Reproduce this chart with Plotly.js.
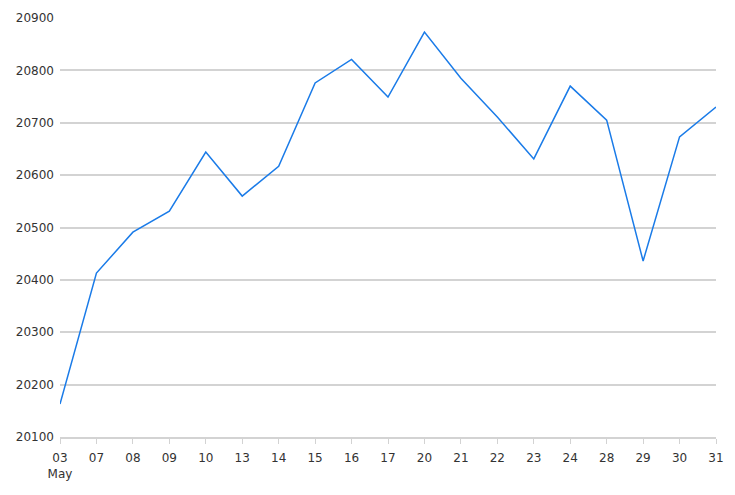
<!DOCTYPE html>
<html><head><meta charset="utf-8">
<script src="https://cdn.plot.ly/plotly-3.0.1.min.js"></script>
<style>html,body{margin:0;padding:0;background:#fff}#chart{width:735px;height:495px}</style>
</head><body><div id="chart"></div>
<script>
var days = ["03","07","08","09","10","13","14","15","16","17","20","21","22","23","24","28","29","30","31"];
var tickLabels = ["03<br>May","07","08","09","10","13","14","15","16","17","20","21","22","23","24","28","29","30","31"];
var values = [20163,20413,20491,20531,20644,20560,20617,20776,20821,20749,20873,20785,20711,20631,20770,20705,20436,20673,20730];
var yTicks = [20100,20200,20300,20400,20500,20600,20700,20800,20900];
var yTickLabels = ["20100","20200","20300","20400","20500","20600","20700","20800","20900"];

Plotly.newPlot('chart', [{
  x: days, y: values, type: 'scatter', mode: 'lines',
  line: {color: '#1a7be8', width: 1.5}, hoverinfo: 'x+y'
}], {
  width: 735, height: 495,
  margin: {l: 60, r: 19, t: 18, b: 58},
  paper_bgcolor: '#fff', plot_bgcolor: '#fff',
  font: {family: 'DejaVu Sans, sans-serif', size: 12, color: '#333'},
  showlegend: false,
  xaxis: {
    type: 'category', range: [0, days.length - 1],
    tickvals: days, ticktext: tickLabels,
    showgrid: false, zeroline: false,
    showline: true, linecolor: '#d3d3d3', linewidth: 2,
    ticks: 'outside', ticklen: 5, tickcolor: '#d3d3d3', tickwidth: 1,
    ticklabelstandoff: 4,
    tickfont: {size: 12, color: '#333'}
  },
  yaxis: {
    range: [20100, 20900], tickvals: yTicks, ticktext: yTickLabels,
    showgrid: true, gridcolor: '#d3d3d3', gridwidth: 1.5,
    zeroline: false, showline: false, ticks: '',
    ticklabelstandoff: 5,
    tickfont: {size: 12, color: '#333'}
  }
}, {displayModeBar: false});
</script></body></html>
